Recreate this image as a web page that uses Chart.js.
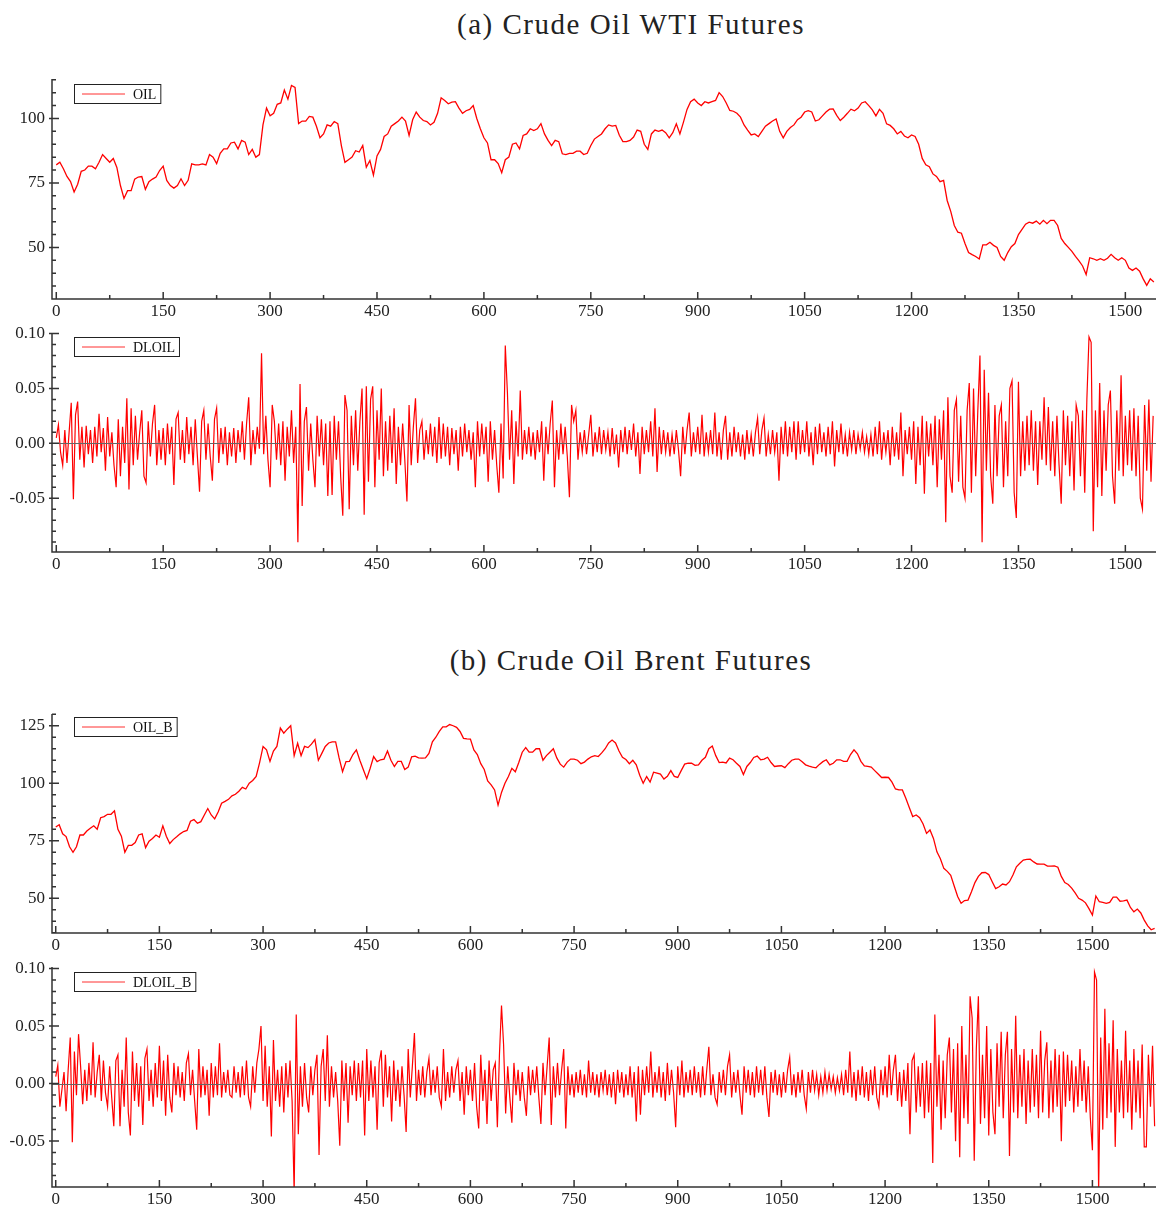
<!DOCTYPE html>
<html>
<head>
<meta charset="utf-8">
<script src="https://cdn.jsdelivr.net/npm/chart.js@4"></script>
<style>
  body { margin: 0; background: #fff; width: 1156px; height: 1209px; position: relative; overflow: hidden; font-family: 'Liberation Serif', serif; }
  .title { position: absolute; left: 381px; width: 500px; text-align: center; font-size: 29px; letter-spacing: 1.5px; color: #222; }
  .panel { position: absolute; left: 0; width: 1156px; }
</style>
</head>
<body>
<div class="title" style="top:8px">(a) Crude Oil WTI Futures</div>
<div class="panel" style="top:59px;height:266px"><canvas id="oil"></canvas></div>
<div class="panel" style="top:313px;height:265px"><canvas id="dloil"></canvas></div>
<div class="title" style="top:644px">(b) Crude Oil Brent Futures</div>
<div class="panel" style="top:694px;height:265px"><canvas id="oilB"></canvas></div>
<div class="panel" style="top:947px;height:266px"><canvas id="dloilB"></canvas></div>

<script>
// x axis ticks (observation index)
const xTicks = [0, 150, 300, 450, 600, 750, 900, 1050, 1200, 1350, 1500];

// WTI price, one value every 5 observations
const oilStep = 5;
const oil = [
  82, 83, 80.5, 77.5, 75.5, 71.5, 74.5, 79.5, 80, 81.5,
  81.5, 80.5, 83, 86, 84.5, 83, 84.5, 81, 74, 69,
  72, 72, 76.5, 77.3, 77.5, 72.5, 75.5, 76.5, 77.3, 79.8,
  81.5, 76, 74, 73, 74, 76.6, 74, 76, 82.4, 82,
  82, 82.4, 82, 86, 85, 82.5, 86.5, 88.2, 88.2, 90.5,
  90.8, 88.2, 91.5, 90.8, 86, 88, 85, 86, 97.5, 104,
  101, 102, 105.5, 106, 111, 107.5, 112.8, 112, 98, 99,
  99, 100.8, 100.5, 97, 92.5, 94, 97.5, 97, 98.8, 98,
  89.5, 83, 84, 85, 87.5, 87, 89.5, 81.1, 83.7, 78,
  85.5, 88, 93, 94, 97, 98, 99, 100.5, 99, 93.4,
  99.5, 102.5, 100.5, 99.2, 98.8, 97.5, 98.5, 102, 108, 107,
  105.7, 106.3, 106.5, 104, 102, 103, 103.5, 105, 100, 96,
  92.5, 90.5, 84, 84, 82.5, 79, 84, 85, 90, 90.5,
  88.2, 93.4, 94, 96, 95.3, 96, 98, 94, 91.5, 89.5,
  91.5, 91, 86.3, 86, 86.5, 86.5, 87.3, 87.3, 86, 86.5,
  89.5, 92, 93, 94, 96, 97.5, 97, 97.3, 93.5, 91,
  91, 91.5, 92.8, 95.5, 95, 90, 88, 94, 95.5, 95,
  95.5, 94.5, 92.5, 94.5, 97.9, 94, 98.6, 103.5, 106.5, 107.5,
  106, 105, 106.5, 106, 106.5, 107, 110, 108.5, 106, 103.1,
  102.8, 102, 100.5, 97.5, 95.5, 93.6, 94, 93, 95, 97,
  98, 99, 99.8, 95, 92.5, 95, 96.5, 97.5, 99.5, 100.5,
  102.5, 103, 102.5, 99, 99.5, 101, 102.5, 103.6, 103.7, 101.2,
  99.2, 100.5, 102, 103.6, 103, 104, 106, 106.5, 105, 103.3,
  101, 103.5, 102, 97.9, 97.3, 96, 94, 95, 93.2, 92.5,
  93.6, 93, 90, 84.5, 82, 81.3, 78.5, 77.5, 75.5, 76,
  68.2, 64, 58.5, 55.9, 55.5, 51.5, 48, 47.2, 46.5, 45.5,
  51, 51, 52, 50.8, 50, 46.5, 45, 48, 50.3, 51.5,
  55, 57, 59, 59.8, 59.4, 60.2, 59, 60.5, 59.2, 60.5,
  60.5, 58.5, 53.5, 51.5, 50, 48.5, 46.5, 44.8, 42.8, 39.5,
  46, 45.6, 45, 45.6, 45, 45.8, 47.3, 46, 45, 46,
  45, 42, 41.1, 42, 40.8, 37.8, 35.3, 37.8, 36.6
];

// WTI log returns, in thousandths, one value every 3 observations
const retStep = 3;
const dloil = [
  5, 17, -8, -20, 12, -18, 10, 37, -51, 26, 38, -15, 15, -22, 16, -10, 12, -18, 15, -12,
  27, -8, 14, -25, 24, -12, 10, -20, -40, 22, -30, 15, -18, 41, -42, 32, -20, 25, -15, 10,
  30, -30, -36, 20, -12, 18, 35, -20, 12, -15, 14, -20, 18, -10, 15, -38, 22, 28, -15, 12,
  -18, 24, -10, 15, -20, 22, -12, -44, 20, 30, -15, 18, -12, -34, 22, 32, -18, 14, -10, 15,
  -20, 10, -12, 14, -18, 12, -8, 20, -15, 18, 42, -20, 12, -10, 15, -5, 82, -10, 25, -15,
  -40, 35, 20, -15, 18, -20, 20, -34, 15, -12, 30, -18, 15, -90, 54, -57, 20, 33, -25, 18,
  -15, -40, 25, -12, 22, -20, 18, -48, 20, -47, 25, -15, 20, -30, -66, 44, 30, -60, 25, -20,
  30, -25, 20, 50, -65, 52, -35, 40, 52, -40, 30, -15, 50, -30, 20, -25, 25, -18, 32, -37,
  15, -20, 18, -15, -53, 35, -20, 15, 41, -18, 12, 20, -15, 12, -10, 18, -12, 15, -18, 24,
  -14, 18, -12, 15, -20, 14, -10, 12, -25, 15, -12, 18, -8, 12, -15, 10, -40, 20, -12, 18,
  -10, 15, -35, 20, -15, 12, -20, -45, 18, -32, 89, 46, -15, 30, -37, 20, -12, 48, -15, 12,
  -10, 15, -12, 10, -15, 12, -8, 20, -34, 15, -10, 18, 39, -40, 12, -15, 18, -10, 15, -12,
  -49, 35, 20, 30, -15, 10, -8, 12, -10, 8, 26, -12, 10, -8, 15, -10, 12, -6, 10, -12,
  14, -10, 8, -22, 12, -8, 15, -10, 12, -6, 18, -12, 10, -28, 15, -10, 12, -8, 20, -12,
  32, -26, 15, -10, 12, -8, 10, -12, 8, -10, 12, -6, -30, 15, -10, 12, 28, -12, 10, -8,
  15, -10, 26, -12, 10, -8, 12, -10, 28, -12, 10, -15, 12, 25, -15, 10, -12, 15, -8, 10,
  -12, 8, -15, 12, -10, 8, -12, 10, 23, -10, 12, 23, -12, 8, -10, 12, -8, 10, -34, 15,
  -10, 20, -12, 15, -8, 20, -15, 20, -10, 12, -8, 20, -12, 10, -20, 15, -10, 18, -8, 10,
  -12, 15, -10, 20, -21, 12, -8, 18, -10, 8, -12, 10, -6, 12, -10, 8, -5, 10, -8, 6,
  -10, 8, -12, 15, -10, 20, -15, 10, -8, 12, -20, 15, -12, 10, -15, 28, -30, 12, -10, 15,
  -15, 20, -37, 15, -20, 25, -46, 20, -12, 18, -20, 25, -40, 22, -15, 30, -72, 42, -30, -45,
  30, 40, -35, 25, -40, -50, 30, 55, -45, 50, -30, 30, 80, -90, 67, -25, 46, -30, -55, 35,
  -30, 25, 35, -40, 20, -30, 50, 57, -45, -68, 56, -30, 20, -25, 25, -20, 30, -25, 20, -38,
  20, -15, 42, -20, 33, -25, 20, -30, 25, -20, -55, 30, -20, 25, -30, 20, -43, 35, 25, -30,
  30, -45, 40, 97, 92, -80, 30, -40, 55, -48, 30, -25, 35, 48, -30, -55, 30, -25, 62, -30,
  25, -20, 30, -25, 32, -30, 25, -50, -60, 35, -25, 40, -35, 25
];

// Brent price, one value every 5 observations
const oilB = [
  81, 82, 78, 76.8, 72.4, 70, 72.4, 77.5, 77.5, 79.2,
  80.4, 81.5, 80, 85, 85.5, 86.5, 86.5, 88, 80, 77,
  70, 73, 73, 74.2, 77.5, 78, 72, 74.8, 76, 77.5,
  76.5, 81.5, 77, 73.8, 75.5, 76.7, 78, 79, 79.5, 83.5,
  84.2, 82.6, 83.3, 86.2, 89, 86.2, 84.5, 87.5, 91.3, 92.1,
  93, 94.5, 95.2, 96.5, 98.2, 97.5, 100, 101.2, 103, 109,
  116, 114.5, 109.5, 114, 116, 124, 121.8, 123.5, 125, 112,
  117.4, 112, 116, 115.5, 117, 119, 110, 113, 116, 117.5,
  118, 118, 111, 105, 109.4, 109.5, 112.5, 114.5, 110, 106,
  102, 106.5, 111.6, 109.4, 110.2, 110.5, 114, 110, 107.3, 109.5,
  109.5, 106, 107, 111.5, 111.8, 111, 110.9, 111, 113, 118,
  120, 122.5, 124.5, 124.5, 125.5, 125, 124.3, 122.5, 119.5, 119.3,
  119.2, 114.5, 112.5, 108.5, 106, 101, 99.3, 97.1, 90.5, 96,
  100, 102.9, 106.5, 105, 109, 113.5, 115.5, 113.5, 113.5, 115,
  115, 110, 112, 113.5, 115, 111, 108.3, 107, 109.2, 110.5,
  110.5, 110, 108.5, 109.2, 110.5, 111.5, 112, 111.6, 113.2, 115,
  117.5, 118.8, 117.5, 114, 111.3, 110.3, 108.5, 110, 108, 103.5,
  100, 102.9, 100.5, 104.8, 104.4, 104, 101.8, 103, 105.5, 103,
  102.5, 105.5, 108.3, 108.7, 108.7, 107.8, 108, 110, 111.3, 115,
  116.2, 112, 109, 109.2, 108.8, 110.9, 110.2, 108.7, 107.3, 103.8,
  107.3, 109, 111.2, 111.8, 110.2, 110.5, 111.3, 109, 107.3, 107.5,
  107.6, 106.8, 108.5, 110, 110.5, 110.5, 109.3, 108, 107.4, 107,
  106.7, 108.2, 109.4, 110.2, 108, 108.7, 110.2, 110.2, 109.5, 109.5,
  112.5, 114.5, 112.8, 109.5, 107.5, 107.3, 107, 105.5, 104, 102.5,
  102.6, 102.5, 100.5, 97.5, 97.1, 97.1, 93.5, 89.5, 85.5, 86.2,
  85, 82.3, 78.2, 79.7, 76, 70.2, 67.2, 63, 61.7, 60,
  55.3, 50.8, 47.8, 49, 49.2, 52.8, 56.8, 59.5, 61.1, 61.2,
  60.3, 57.2, 54.2, 55, 56.2, 55.8, 57.2, 60.1, 63.7, 65.2,
  66.6, 66.9, 67, 65.8, 64.9, 64.8, 64.8, 64, 64, 64.1,
  63.5, 59.5, 56.8, 56, 54.4, 52.3, 50, 49.2, 48, 45.5,
  42.7, 51, 48.5, 48.2, 47.8, 48.2, 50.5, 50.5, 48.7, 48.9,
  49.2, 46, 44.1, 45.3, 43.6, 40.5, 38, 36.3, 36.9
];

// Brent log returns, in thousandths, one value every 3 observations
const dloilB = [
  6, 16, -20, -5, 10, -24, 12, 40, -51, 28, -10, 43, 15, -18, 12, -15, 18, -10, 36, -12,
  10, 25, -15, 20, -8, -20, 15, -12, -37, 20, 25, -37, 12, -20, 40, -25, -45, 28, -15, 18,
  -20, 15, -36, 22, 30, -15, 12, -20, 18, -12, 33, -15, 20, -28, 25, -12, -25, 18, -10, 15,
  -12, 10, -15, 18, 26, -10, 12, -15, -40, 30, -12, 15, -10, 12, -28, 18, -12, 15, -10, 35,
  -12, 10, -8, 12, -10, -12, 15, -8, 10, -12, 15, -10, 20, -12, -20, 15, -8, 18, 30, 50,
  -15, 33, -20, 15, -46, 38, -15, 12, -20, 15, -25, 18, -12, 20, -15, -95, 60, -44, 15, -20,
  18, -12, -25, 15, -10, 12, 25, -62, 15, 30, -15, 42, -20, 15, -12, 10, -15, -54, 20, -15,
  18, -34, 15, -10, 20, -15, 18, -12, 20, -45, 30, -15, 20, -12, 15, -40, 18, 29, -20, 25,
  -12, 15, -33, 20, -15, 12, -20, 15, -10, -42, 30, -12, 15, 44, -15, 12, -10, 15, -12, 10,
  22, -10, 12, -8, 15, -12, -20, 30, -15, 10, -12, 15, -8, 12, 20, -15, 10, -27, 15, -10,
  12, -15, 18, -20, -39, 25, -15, 12, -35, 20, -15, 12, 18, -38, 25, 68, 34, -26, 15, -12,
  -34, 18, -10, 12, -15, 10, -12, -28, 15, -10, 12, -8, 15, -12, -35, 18, -10, 15, 40, -36,
  15, -12, 18, -10, 12, 30, -39, 15, -10, 8, -12, 10, -8, 12, -10, 8, -12, 20, -8, 10,
  -10, 8, -12, 10, -6, 12, -10, 8, -12, 10, -18, 12, -8, 10, -12, 8, -10, 15, -12, 10,
  -33, 15, -27, 12, -10, 15, -8, 28, -12, 10, -8, 15, -12, 10, -15, 18, -10, 12, -8, -38,
  15, -10, 20, -12, 10, -8, 12, -10, 15, -8, 10, -12, 15, -10, 12, 32, -10, 8, -12, -18,
  10, -8, 12, -10, 15, 25, -12, 10, -8, 12, -10, -27, 15, -8, 12, -10, 10, -12, 15, -8,
  12, -10, 15, -12, -29, 10, -8, 12, -10, 8, -12, 10, -8, 12, 23, -10, 8, -12, 10, -8,
  12, -10, -22, 10, -8, 12, -6, 8, -10, 6, -8, 10, -6, 8, -5, 6, -8, 5, -6, 8,
  -10, 12, -8, 28, -12, 10, -15, 12, -10, 15, -12, 10, -15, 12, -10, 15, -12, -20, 12, -10,
  15, -12, 25, -10, 12, 25, -15, 10, -20, 12, -15, 18, -44, 20, 25, -25, 15, -20, 18, -30,
  20, -25, 18, -69, 60, -20, 25, -40, 20, -30, 25, 40, -25, 30, -50, 35, -64, 50, -30, 25,
  -35, 76, 57, -67, 30, 76, -35, 25, -30, 50, -45, 30, -25, -44, 35, -20, 45, -30, 25, 45,
  -63, 30, -25, 59, -30, 25, -20, 30, -35, 20, -25, 30, -20, 25, -30, 46, -25, 20, 36, -30,
  20, -25, 30, -20, 25, -50, 28, -20, 25, -15, 20, -25, 15, -20, 30, -15, 20, -25, 15, -30,
  -58, 97, 90, -95, 40, -40, 65, -30, 35, -25, 55, -55, 30, -25, 20, -30, 46, -25, 20, -40,
  30, -25, 20, -30, 34, -55, -55, 25, -20, 33, -37
];

// y axis ticks
const oilTicks = [50, 75, 100];
const oilBTicks = [50, 75, 100, 125];
const retTicks = [-0.05, 0, 0.05, 0.10];

Chart.defaults.font.family = "'Liberation Serif', serif";

// axis lines, inward tick marks, zero line and the boxed legend
const frame = {
  id: 'frame',
  afterDatasetsDraw(chart, args, o) {
    if (!o.zero) return;
    const { ctx, chartArea: a, scales: { y } } = chart;
    const py = Math.round(y.getPixelForValue(0)) + 0.5;
    ctx.save();
    ctx.strokeStyle = '#666';
    ctx.lineWidth = 1;
    ctx.beginPath();
    ctx.moveTo(a.left, py);
    ctx.lineTo(a.right, py);
    ctx.stroke();
    ctx.restore();
  },
  afterDraw(chart, args, o) {
    const { ctx, chartArea: a, scales: { x, y } } = chart;
    ctx.save();
    ctx.strokeStyle = '#333';
    ctx.lineWidth = 1.5;
    ctx.beginPath();
    ctx.moveTo(a.left, a.top);
    ctx.lineTo(a.left, a.bottom);
    ctx.lineTo(a.right, a.bottom);

    const k0 = Math.ceil(y.min / o.yMinor - 1e-6);
    const k1 = Math.floor(y.max / o.yMinor + 1e-6);
    for (let k = k0; k <= k1; k++) {
      const v = k * o.yMinor;
      const major = o.yTicks.some(t => Math.abs(t - v) < o.yMinor / 10);
      const py = y.getPixelForValue(v);
      ctx.moveTo(a.left - (major ? 3 : 0), py);
      ctx.lineTo(a.left + (major ? 7 : 4), py);
    }
    for (let k = Math.ceil(x.min / 75); k <= Math.floor(x.max / 75); k++) {
      const px = x.getPixelForValue(k * 75);
      ctx.moveTo(px, a.bottom);
      ctx.lineTo(px, a.bottom - (k % 2 === 0 ? 7 : 4));
    }
    ctx.stroke();

    // legend
    ctx.font = "14px 'Liberation Serif'";
    const tw = ctx.measureText(o.label).width;
    const bx = 74, by = a.top + o.legendTop, bh = 19;
    const bw = 59 + tw + 4;
    ctx.strokeStyle = '#222';
    ctx.lineWidth = 1;
    ctx.strokeRect(bx + 0.5, Math.round(by) + 0.5, bw, bh);
    ctx.strokeStyle = '#ff3030';
    ctx.beginPath();
    ctx.moveTo(82, by + bh / 2 + 0.5);
    ctx.lineTo(125, by + bh / 2 + 0.5);
    ctx.stroke();
    ctx.fillStyle = '#111';
    ctx.textBaseline = 'middle';
    ctx.fillText(o.label, 133, by + bh / 2 + 1.5);
    ctx.restore();
  }
};

function makePanel(id, label, values, step, scale, opts) {
  const points = values.map((v, i) => ({ x: i * step, y: v * scale }));
  return new Chart(document.getElementById(id), {
    type: 'line',
    data: {
      datasets: [{
        label: label,
        data: points,
        borderColor: '#ff0000',
        borderWidth: opts.lw,
        pointRadius: 0,
        tension: 0,
        fill: false
      }]
    },
    options: {
      animation: false,
      responsive: true,
      maintainAspectRatio: false,
      layout: { padding: { top: 20, right: 0, bottom: 0, left: 0 } },
      plugins: {
        legend: { display: false },
        tooltip: { enabled: false },
        frame: { label: label, yTicks: opts.yTicks, yMinor: opts.yMinor, zero: opts.zero, legendTop: opts.legendTop }
      },
      scales: {
        x: {
          type: 'linear',
          min: opts.xMin,
          max: opts.xMax,
          grid: { display: false, drawTicks: false },
          border: { display: false },
          ticks: {
            padding: 2, color: '#222', font: { size: 17 }, autoSkip: false, maxRotation: 0,
            callback: v => String(v)
          },
          afterBuildTicks: s => { s.ticks = xTicks.map(v => ({ value: v })); },
          afterFit: s => { s.height = 26; }
        },
        y: {
          min: opts.yMin,
          max: opts.yMax,
          grid: { display: false, drawTicks: false },
          border: { display: false },
          ticks: {
            padding: 7,
            color: '#222',
            font: { size: 17 },
            callback: v => opts.digits ? v.toFixed(opts.digits) : String(v)
          },
          afterBuildTicks: s => { s.ticks = opts.yTicks.map(v => ({ value: v })); },
          afterFit: s => { s.width = 52; }
        }
      }
    },
    plugins: [frame]
  });
}

makePanel('oil', 'OIL', oil, oilStep, 1, {
  lw: 1.3, xMin: -6, xMax: 1543, yMin: 30, yMax: 115.3,
  yTicks: oilTicks, yMinor: 5, digits: 0, zero: false, legendTop: 5
});
makePanel('dloil', 'DLOIL', dloil, retStep, 0.001, {
  lw: 1.2, xMin: -6, xMax: 1543, yMin: -0.099, yMax: 0.1005,
  yTicks: retTicks, yMinor: 0.01, digits: 2, zero: true, legendTop: 4
});
makePanel('oilB', 'OIL_B', oilB, oilStep, 1, {
  lw: 1.3, xMin: -5.4, xMax: 1592, yMin: 34.9, yMax: 130.1,
  yTicks: oilBTicks, yMinor: 5, digits: 0, zero: false, legendTop: 3
});
makePanel('dloilB', 'DLOIL_B', dloilB, retStep, 0.001, {
  lw: 1.2, xMin: -5.4, xMax: 1592, yMin: -0.0899, yMax: 0.1014,
  yTicks: retTicks, yMinor: 0.01, digits: 2, zero: true, legendTop: 5
});
</script>
</body>
</html>
